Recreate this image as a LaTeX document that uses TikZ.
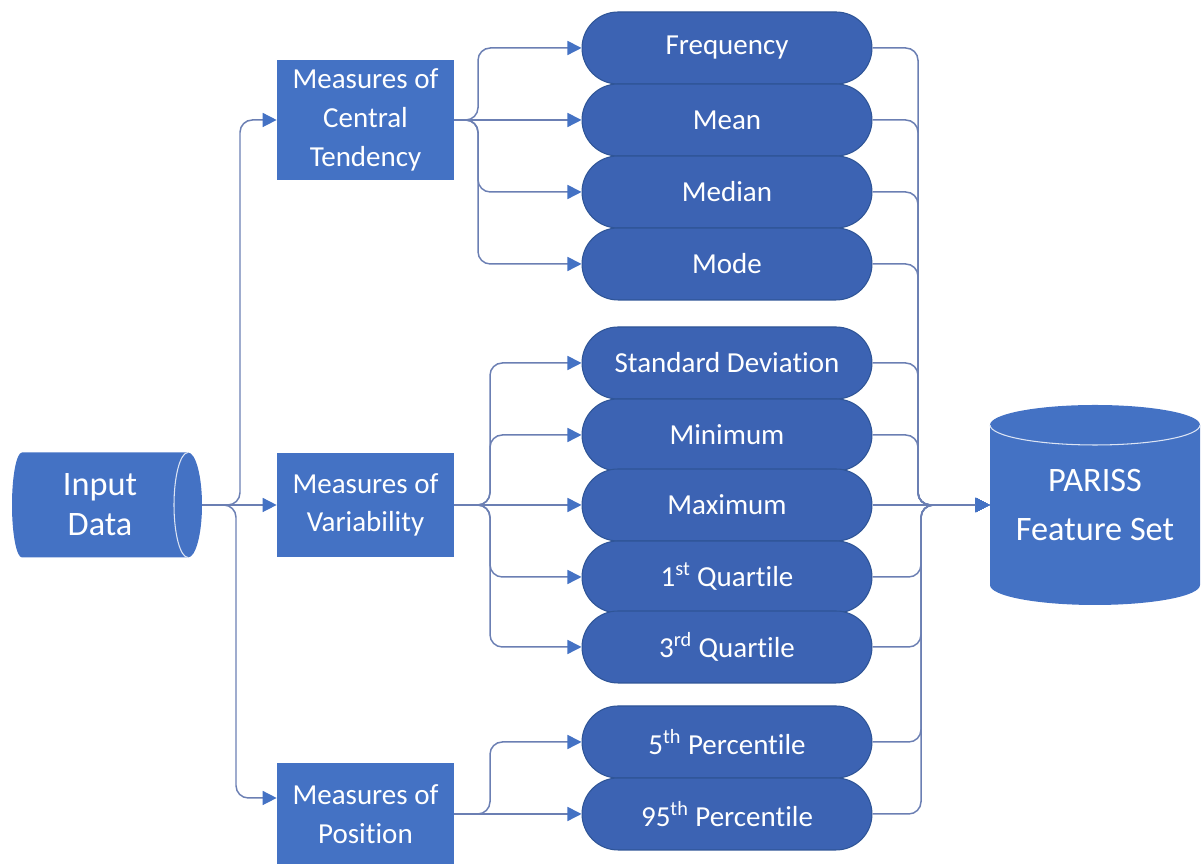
\documentclass[tikz,border=0pt]{standalone}
\usepackage{fontspec}
\setmainfont[Ligatures=NoCommon]{Carlito}
\usetikzlibrary{shapes.misc,arrows.meta,calc}
\definecolor{boxblue}{HTML}{4472C4}
\definecolor{pillblue}{HTML}{3C63B3}
\definecolor{pilledge}{HTML}{2F5597}
\definecolor{wire}{HTML}{6B7FB3}
\definecolor{rim}{HTML}{DCE4F4}

\begin{document}
\begin{tikzpicture}[x=0.02cm,y=0.02cm,
  conn/.style={draw=wire, line width=0.85pt, rounded corners=7pt,
    -{Triangle[length=8pt,width=8pt,color=boxblue]}},
  measure/.style={rectangle, fill=boxblue, text=white, minimum width=3.54cm,
    align=center, inner sep=0pt, font=\fontsize{16.5}{22}\selectfont},
  stat/.style={rounded rectangle, fill=pillblue, draw=pilledge, line width=0.6pt,
    text=white, minimum width=5.8cm, minimum height=1.44cm, inner sep=0pt,
    font=\fontsize{16.5}{20}\selectfont},
  bigtext/.style={text=white, align=center, inner sep=0pt},
]
\useasboundingbox (0,0) rectangle (1201,864);

% data source: horizontal drum
\fill[boxblue] (22,411.5) -- (188,411.5)
  arc[start angle=90, end angle=-90, x radius=14, y radius=52.5]
  -- (22,306.5)
  arc[start angle=270, end angle=90, x radius=10, y radius=52.5] -- cycle;
\draw[rim, line width=0.6pt] (188,411.5)
  arc[start angle=90, end angle=270, x radius=14, y radius=52.5];
\node[bigtext, minimum width=4.08cm, minimum height=2.1cm,
  font=\fontsize{19.5}{22.8}\selectfont] (input) at (100,359) {Input\\Data};

% result store: upright cylinder
\fill[boxblue] (990,439) -- (990,279)
  arc[start angle=180, end angle=360, x radius=105, y radius=20]
  -- (1200,439)
  arc[start angle=0, end angle=180, x radius=105, y radius=20] -- cycle;
\draw[rim, line width=0.6pt] (990,439)
  arc[start angle=180, end angle=360, x radius=105, y radius=20];
\node[bigtext, minimum width=4.2cm, minimum height=3.2cm,
  font=\fontsize{19.5}{28}\selectfont] (store) at (1095,359) {PARISS\\Feature Set};

% groups of measures
\node[measure, minimum height=2.4cm]  (ct)  at (365.5,744) {Measures of\\Central\\Tendency};
\node[measure, minimum height=2.08cm] (var) at (365.5,359) {Measures of\\Variability};
\node[measure, minimum height=2.04cm] (pos) at (365.5,50)  {Measures of\\Position};

% individual statistics
\node[stat] (freq)   at (727,816) {Frequency};
\node[stat] (mean)   at (727,744) {Mean};
\node[stat] (median) at (727,672) {Median};
\node[stat] (mode)   at (727,600) {Mode};
\node[stat] (sd)     at (727,501) {Standard Deviation};
\node[stat] (mn)     at (727,429) {Minimum};
\node[stat] (mx)     at (727,359) {Maximum};
\node[stat] (qa)     at (727,287) {1\textsuperscript{st} Quartile};
\node[stat] (qc)     at (727,217) {3\textsuperscript{rd} Quartile};
\node[stat] (pa)     at (727,122) {5\textsuperscript{th} Percentile};
\node[stat] (pb)     at (727,50)  {95\textsuperscript{th} Percentile};

% bus lines
\path (240,0) coordinate (xa) (236,0) coordinate (xb) (478,0) coordinate (xc)
      (490,0) coordinate (xd) (918,0) coordinate (xe) (921,0) coordinate (xf);
\coordinate (posin) at ($(pos.west)+(0,16)$);

% input to groups
\draw[conn] (input.east) -- (var.west);
\draw[conn] (input.east) -| (xa |- ct.west) -- (ct.west);
\draw[conn] (input.east) -| (xb |- posin) -- (posin);

% groups to statistics
\draw[conn] (ct.east) -- (mean.west);
\foreach \s in {freq,median,mode}
  \draw[conn] (ct.east) -| (xc |- \s.west) -- (\s.west);
\draw[conn] (var.east) -- (mx.west);
\foreach \s in {sd,mn,qa,qc}
  \draw[conn] (var.east) -| (xd |- \s.west) -- (\s.west);
\draw[conn] (pos.east) -- (pb.west);
\draw[conn] (pos.east) -| (xd |- pa.west) -- (pa.west);

% statistics to feature set
\draw[conn] (mx.east) -- (store.west);
\foreach \s in {freq,mean,median,mode,sd,mn}
  \draw[conn] (\s.east) -| (xe |- store.west) -- (store.west);
\foreach \s in {qa,qc,pa,pb}
  \draw[conn] (\s.east) -| (xf |- store.west) -- (store.west);
\end{tikzpicture}
\end{document}
